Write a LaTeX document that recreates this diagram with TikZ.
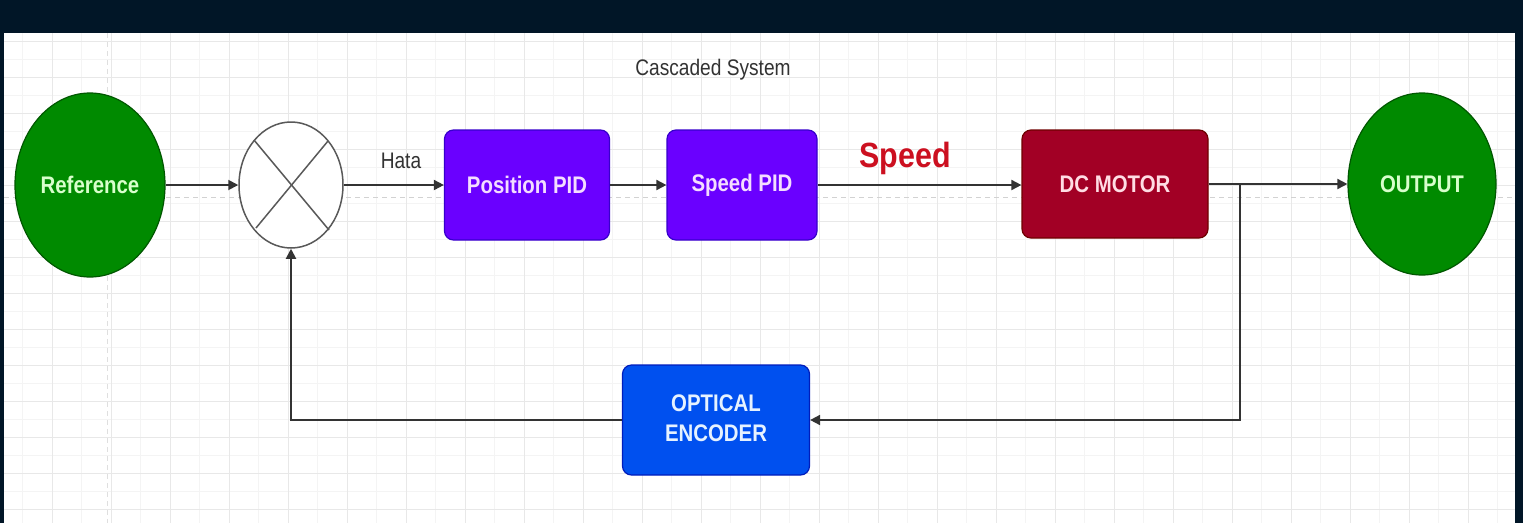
\documentclass[tikz,border=0pt]{standalone}
\usepackage{fontspec}
\setmainfont{Liberation Sans}
\usetikzlibrary{arrows.meta,shapes.geometric,calc}
\definecolor{band}{RGB}{1,22,39}
\definecolor{gfill}{HTML}{008A00}
\definecolor{gline}{HTML}{005700}
\definecolor{gtext}{HTML}{D8FFCC}
\definecolor{pfill}{HTML}{6A00FF}
\definecolor{pline}{HTML}{3700CC}
\definecolor{ptext}{HTML}{F4DDFF}
\definecolor{rfill}{HTML}{A20025}
\definecolor{rline}{HTML}{6F0000}
\definecolor{rtext}{HTML}{FFDDE4}
\definecolor{bfill}{HTML}{0050EF}
\definecolor{bline}{HTML}{001DBC}
\definecolor{btext}{HTML}{E6F2FF}
\definecolor{linec}{HTML}{333333}
\definecolor{redlbl}{HTML}{CC1020}
\newcommand{\sqz}[1]{\scalebox{0.85}[1]{#1}}
\begin{document}
\begin{tikzpicture}[x=1pt,y=-1pt,
  term/.style={ellipse,draw=gline,line width=1.2pt,fill=gfill,text=gtext,
    minimum width=150pt,minimum height=184pt,inner sep=0pt,
    font=\fontsize{24}{28}\selectfont\bfseries},
  blk/.style={rectangle,rounded corners=9pt,line width=1.2pt,inner sep=0pt,
    minimum height=110pt,font=\fontsize{24}{30}\selectfont\bfseries},
  conn/.style={draw=linec,line width=1.8pt,-{Triangle[length=10pt,width=10pt]}},
  lbl/.style={text=black!80,font=\fontsize{22.5}{26}\selectfont,inner sep=0pt}]
\useasboundingbox (0,0) rectangle (1523,523);
% background
\fill[white] (0,0) rectangle (1523,523);
\foreach \x in {0,...,50} {\draw[gray!9,line width=0.8pt] (22.5+29.5*\x,33) -- (22.5+29.5*\x,523);}
\foreach \y in {0,...,27} {\draw[gray!9,line width=0.8pt] (4,23+18*\y) -- (1515,23+18*\y);}
\foreach \x in {0,...,24} {\draw[gray!18,line width=1pt] (52+59*\x,33) -- (52+59*\x,523);}
\foreach \y in {0,...,13} {\draw[gray!18,line width=1pt] (4,41+36*\y) -- (1515,41+36*\y);}
\draw[gray!35,dashed,line width=1pt,dash pattern=on 5pt off 4pt] (4,197) -- (1515,197);
\draw[gray!25,dashed,line width=1pt,dash pattern=on 5pt off 4pt] (107,33) -- (107,523);
\fill[band] (0,0) rectangle (1523,33);
\fill[band] (0,0) rectangle (4,523);
\fill[band] (1515,0) rectangle (1523,523);
% nodes
\node[term] (ref) at (90,185) {\sqz{Reference}};
\node[ellipse,draw=black!65,line width=1.5pt,fill=white,minimum width=104pt,minimum height=126pt,inner sep=0pt] (sum) at (291,185) {};
\draw[black!65,line width=1.5pt] ($(sum.center)+(-37,-45)$) -- ($(sum.center)+(38,45)$);
\draw[black!65,line width=1.5pt] ($(sum.center)+(37,-44)$) -- ($(sum.center)+(-35,43)$);
\node[blk,draw=pline,fill=pfill,text=ptext,minimum width=165pt] (pos) at (527,185) {\sqz{Position PID}};
\node[blk,draw=pline,fill=pfill,text=ptext,minimum width=150pt] (spd) at (742,185) {\sqz{Speed PID}};
\node[blk,draw=rline,fill=rfill,text=rtext,minimum width=186pt,minimum height=108pt] (motor) at (1115,184) {\sqz{DC MOTOR}};
\node[term,minimum width=148pt,minimum height=182pt] (out) at (1422,184) {\sqz{OUTPUT}};
\node[blk,draw=bline,fill=bfill,text=btext,minimum width=187pt] (enc) at (716,420)
  {\sqz{\begin{tabular}{@{}c@{}}OPTICAL\\ENCODER\end{tabular}}};
% labels
\node[lbl] (hata) at (401,161) {\sqz{Hata}};
\node[lbl] (casc) at (713,70) {\sqz{Cascaded System}};
\node[text=redlbl,font=\fontsize{35}{40}\selectfont\bfseries,inner sep=0pt] (speedlbl) at (905,158) {\scalebox{0.87}[1]{Speed}};
% connectors
\coordinate (fbR) at (1240,420);
\draw[conn] (ref.east) -- (sum.west);
\draw[conn] (sum.east) -- (pos.west);
\draw[conn] (pos.east) -- (spd.west);
\draw[conn] (spd.east) -- (spd.east -| motor.west);
\draw[conn] (motor.east) -- (motor.east -| out.west);
\draw[conn] (motor.east) -| (fbR) -- (enc.east);
\draw[conn] (enc.west) -| (sum.south);
\end{tikzpicture}
\end{document}
